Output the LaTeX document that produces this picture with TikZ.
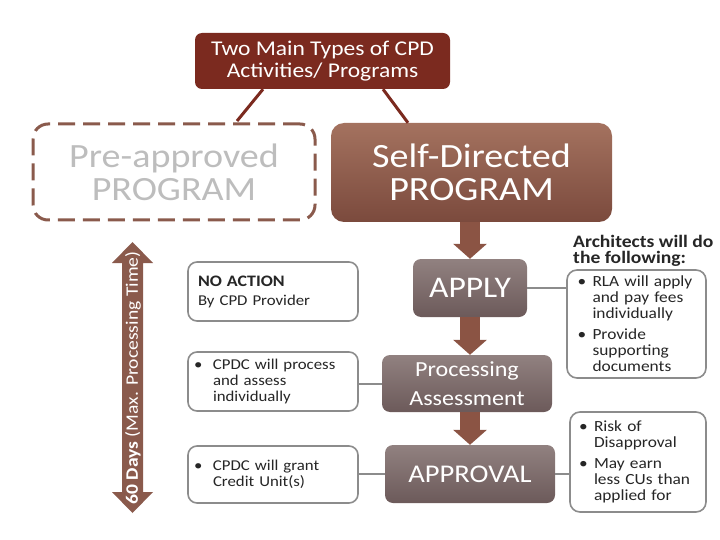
\documentclass[tikz,border=0pt]{standalone}
\usepackage{fontspec}
\setmainfont{Carlito}[FakeStretch=1.12]
\usetikzlibrary{arrows.meta,calc}
\definecolor{titlered}{HTML}{7B2A1F}
\definecolor{brownline}{HTML}{8A5A4C}
\definecolor{selftop}{HTML}{A4725F}
\definecolor{selfbot}{HTML}{7B4A3D}
\definecolor{midtop}{HTML}{918180}
\definecolor{midbot}{HTML}{6C5A5A}
\definecolor{boxgray}{HTML}{8C8C8C}
\definecolor{ghost}{HTML}{BDBDBD}
\definecolor{arrowbrown}{HTML}{8B5444}
\definecolor{txt}{HTML}{262626}
\newcommand\bitemL[1]{\hspace*{-4pt}\makebox[19pt][l]{\textbullet}\parbox[t]{125pt}{\raggedright #1}}
\newcommand\bitemR[1]{\makebox[15pt][l]{\textbullet}\parbox[t]{105pt}{\raggedright #1}}
\tikzset{
  lbox/.style={draw=boxgray, line width=1.6pt, rounded corners=9pt, fill=white,
    minimum width=170pt, text width=150pt, align=left, inner sep=0pt, text=txt,
    font=\fontsize{15}{16}\selectfont},
  rbox/.style={draw=boxgray, line width=1.6pt, rounded corners=10pt, fill=white,
    text width=118pt, align=left, inner sep=0pt, text=txt,
    font=\fontsize{15.5}{16}\selectfont},
  mbox/.style={top color=midtop, bottom color=midbot, rounded corners=8pt,
    text=white, align=center, inner sep=0pt},
  downarrow/.style={line width=20pt, draw=arrowbrown,
    -{Triangle[width=33pt,length=15pt]}},
  grayline/.style={draw=boxgray, line width=2pt},
  redline/.style={draw=titlered, line width=3pt}
}
\begin{document}
\begin{tikzpicture}[x=1pt,y=-1pt]
\useasboundingbox (0,0) rectangle (720,540);

% title
\node[fill=titlered, rounded corners=7pt, minimum width=255pt, minimum height=56pt,
  text=white, align=center, inner sep=0pt, font=\fontsize{21}{22}\selectfont]
  (title) at (322.5,61) {Two Main Types of CPD\\Activities/ Programs};

% pre-approved (dashed)
\node[draw=brownline, line width=3pt, dash pattern=on 17pt off 8pt, rounded corners=15pt,
  minimum width=282pt, minimum height=96pt, text=ghost, align=center, inner sep=0pt,
  font=\fontsize{34}{33}\selectfont]
  (pre) at (174,172) {Pre-approved\\PROGRAM};

% self-directed
\node[top color=selftop, bottom color=selfbot, rounded corners=13pt,
  minimum width=281pt, minimum height=99pt, text=white, align=center, inner sep=0pt,
  font=\fontsize{34}{33}\selectfont]
  (self) at (471.5,172.5) {Self-Directed\\PROGRAM};

\draw[redline] ($(title.south)+(-59.5,0)$) -- ($(pre.north)+(63,-1.5)$);
\draw[redline] ($(title.south)+(60.5,0)$) -- ($(self.north)+(-63.5,0)$);

% vertical double arrow
\fill[brownline] (132.5,242) -- (153,263) -- (143,263) -- (143,492) -- (153,492)
  -- (132.5,513) -- (112,492) -- (122,492) -- (122,263) -- (112,263) -- cycle;
\node[rotate=90, inner sep=0pt, text=white, font=\fontsize{17.5}{18}\selectfont]
  (days) at (133,378) {\textbf{60 Days} (Max. Processing Time)};

% left boxes
\node[lbox, minimum height=59pt] (l1) at (273,291.5)
  {{\fontsize{16}{16}\selectfont\textbf{NO ACTION}}\\[3pt]By CPD Provider};
\node[lbox, minimum height=59pt] (l2) at (273,381.5)
  {\bitemL{CPDC will process\\and assess\\individually}};
\node[lbox, minimum height=57pt] (l3) at (273,474.5)
  {\bitemL{CPDC will grant\\Credit Unit(s)}};

% middle boxes
\node[mbox, minimum width=114pt, minimum height=58pt, font=\fontsize{30}{30}\selectfont]
  (apply) at (470,288) {APPLY};
\node[mbox, minimum width=170pt, minimum height=57pt, font=\fontsize{21.5}{29}\selectfont]
  (proc) at (467,383.5) {Processing\\Assessment};
\node[mbox, minimum width=170pt, minimum height=58pt, font=\fontsize{25.5}{26}\selectfont]
  (appr) at (470,474) {APPROVAL};

% down arrows
\draw[downarrow] (apply.north |- self.south) -- (apply.north);
\draw[downarrow] (apply.south) -- (apply.south |- proc.north);
\draw[downarrow] (apply.south |- proc.south) -- (apply.south |- appr.north);

% right side
\node[anchor=north west, align=left, inner sep=0pt, text=txt,
  font=\bfseries\fontsize{17.5}{16.5}\selectfont]
  (arch) at (573,235) {Architects will do\\the following:};
\node[rbox, minimum width=139pt, minimum height=108pt] (r1) at (636.5,324)
  {\bitemR{RLA will apply\\and pay fees\\individually}\\[7pt]\bitemR{Provide\\supporting\\documents}};
\node[rbox, minimum width=136pt, minimum height=100pt] (r2) at (638,462)
  {\bitemR{Risk of\\Disapproval}\\[7pt]\bitemR{May earn\\less CUs than\\applied for}};

% gray connectors
\draw[grayline] (apply.east) -- (apply.east -| r1.west);
\draw[grayline] (proc.west) -- (proc.west -| l2.east);
\draw[grayline] (appr.west) -- (appr.west -| l3.east);
\draw[grayline] (appr.east) -- (appr.east -| r2.west);
\end{tikzpicture}
\end{document}
